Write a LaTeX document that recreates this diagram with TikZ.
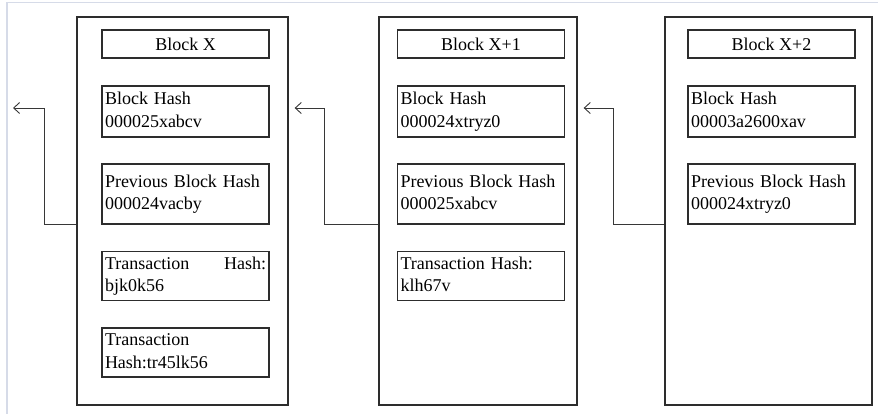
\documentclass[tikz,border=0pt]{standalone}
\usepackage{fontspec}
\setmainfont{Liberation Serif}
\newfontfamily\tms{Liberation Serif}
\usetikzlibrary{arrows.meta}
\definecolor{framec}{RGB}{214,219,232}
\definecolor{linec}{RGB}{45,45,45}
\definecolor{arrc}{RGB}{55,55,55}
\begin{document}
\begin{tikzpicture}[x=1pt,y=-1pt,
  outerbox/.style={draw=linec,line width=1.3pt,minimum width=#1,minimum height=388pt,inner sep=0pt},
  field/.style={draw=linec,line width=1.2pt,text width=161pt,inner xsep=3pt,inner ysep=2pt,
     align=left,minimum height=#1,font=\tms\fontsize{18}{22.5}\selectfont,
     execute at begin node=\strut, execute at end node=\strut},
  titlebox/.style={draw=linec,line width=1.2pt,minimum width=167pt,minimum height=28pt,inner sep=0pt,
     font=\tms\fontsize{18}{22.5}\selectfont},
  arr/.style={draw=arrc,line width=0.9pt,-{Straight Barb[length=6pt,width=11pt]}}]
\useasboundingbox (0,0) rectangle (878,414);
\draw[framec,line width=1.5pt] (7,414) -- (7,2.5) -- (878,2.5);

% Block X
\node[outerbox=211pt] (ox) at (182.5,211) {};
\node[titlebox] (tx) at (185.5,44) {Block X};
\node[field=51pt] (bhx) at (185.5,111.5) {Block Hash\\000025xabcv};
\node[field=60pt] (pbx) at (185.5,194) {Previous Block Hash\\000024vacby};
\node[field=48pt] (thx1) at (185.5,276) {Transaction\hfill Hash:\\bjk0k56};
\node[field=49pt] (thx2) at (185.5,352.5) {Transaction\\Hash:tr45lk56};

% Block X+1
\node[outerbox=198pt] (oy) at (478,211) {};
\node[titlebox] (ty) at (481,44) {Block X+1};
\node[field=51pt] (bhy) at (481,111.5) {Block Hash\\000024xtryz0};
\node[field=60pt] (pby) at (481,194) {Previous Block Hash\\000025xabcv};
\node[field=48pt] (thy) at (481,276) {Transaction Hash:\\klh67v};

% Block X+2
\node[outerbox=207pt] (oz) at (768.5,211) {};
\node[titlebox] (tz) at (771.5,44) {Block X+2};
\node[field=51pt] (bhz) at (771.5,111.5) {Block Hash\\00003a2600xav};
\node[field=60pt] (pbz) at (771.5,194) {Previous Block Hash\\000024xtryz0};

% links
\coordinate (endx) at (13,108);
\draw[arr] ([yshift=-13pt]ox.west) -- ++(-32,0) |- (endx);
\draw[arr] ([yshift=-13pt]oy.west) -- ++(-54,0) |- ([xshift=6pt]ox.east |- endx);
\draw[arr] ([yshift=-13pt]oz.west) -- ++(-51,0) |- ([xshift=6pt]oy.east |- endx);
\end{tikzpicture}
\end{document}
